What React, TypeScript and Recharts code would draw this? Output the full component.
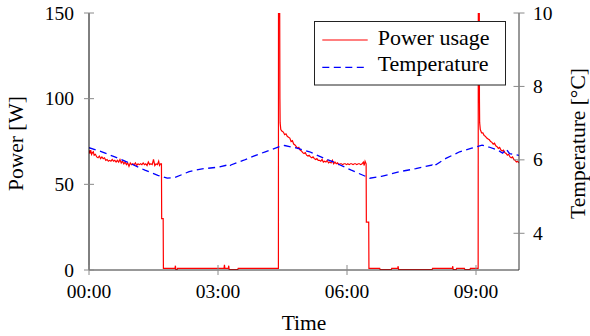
import React from 'react';
import { LineChart, Line, XAxis, YAxis, Legend } from 'recharts';

// ---------- data ----------
// Power usage: [hour, watts]
const powerSeries: [number, number][] = [
  [0.0, 70], [0.02, 68], [0.04, 70], [0.06, 67.5], [0.08, 68.5], [0.1, 69], [0.12, 67], [0.15, 67.5],
  [0.18, 66], [0.21, 65.5], [0.24, 66.5], [0.27, 65], [0.3, 66], [0.33, 65], [0.36, 65.5], [0.39, 64],
  [0.42, 64.5], [0.45, 63.5], [0.48, 64], [0.51, 63.5], [0.54, 64.5], [0.57, 63.5], [0.6, 64], [0.63, 63],
  [0.66, 64], [0.69, 63], [0.72, 64.5], [0.75, 62.5], [0.78, 63.5], [0.81, 62], [0.84, 63], [0.87, 61.5],
  [0.9, 62.5], [0.93, 60.5], [0.96, 62.5], [0.99, 61.5], [1.02, 62], [1.05, 61.5], [1.08, 62.5], [1.11, 61],
  [1.14, 62], [1.17, 61.5], [1.2, 62], [1.23, 61.5], [1.26, 62.5], [1.29, 61.5], [1.32, 62], [1.35, 61],
  [1.38, 63], [1.41, 61.5], [1.44, 62], [1.47, 61.5], [1.5, 64.5], [1.53, 61], [1.56, 62], [1.59, 61.5],
  [1.62, 63.5], [1.64, 61], [1.665, 62], [1.685, 62],
  [1.69, 30], [1.725, 30], [1.73, 1], [2.0, 1], [2.01, 2.5], [2.02, 0.3], [2.05, 0.3], [2.06, 1],
  [3.14, 1], [3.15, 3], [3.16, 1], [3.24, 1], [3.25, 2.5], [3.26, 0.3], [3.46, 0.3], [3.47, 1],
  [4.405, 1], [4.41, 400], [4.44, 100], [4.445, 86], [4.46, 82],
  [4.49, 81], [4.52, 80.5], [4.55, 79], [4.58, 79.5], [4.61, 78], [4.64, 77.5], [4.67, 77], [4.7, 75],
  [4.73, 75.5], [4.76, 73.5], [4.79, 73], [4.82, 72], [4.85, 71], [4.88, 71.5], [4.91, 70], [4.94, 69.5],
  [4.97, 68.5], [5.0, 68], [5.03, 68.5], [5.06, 67], [5.09, 66.5], [5.12, 67], [5.15, 66], [5.18, 65.5],
  [5.21, 66], [5.24, 65], [5.27, 64.5], [5.3, 65], [5.33, 64], [5.36, 64], [5.39, 63.5], [5.42, 64.5],
  [5.45, 63], [5.48, 63.5], [5.51, 63], [5.54, 64], [5.57, 62.5], [5.6, 63], [5.63, 62.5], [5.66, 64],
  [5.69, 62], [5.72, 63], [5.75, 62], [5.78, 62.5], [5.81, 61.5], [5.84, 62], [5.87, 62], [5.9, 61.5],
  [5.93, 62], [5.96, 62], [5.99, 61.5], [6.02, 62], [6.05, 61.5], [6.08, 62], [6.11, 62], [6.14, 61.5],
  [6.17, 62], [6.2, 62], [6.23, 61.5], [6.26, 62], [6.29, 62], [6.32, 61.5], [6.35, 62], [6.38, 63],
  [6.4, 61], [6.42, 63.5], [6.445, 62],
  [6.45, 28], [6.505, 28], [6.51, 1], [6.76, 1], [6.77, 0.3], [7.03, 0.3], [7.04, 1], [7.18, 1],
  [7.19, 2.2], [7.2, 0.3], [7.98, 0.3], [7.99, 1], [8.45, 1], [8.46, 2.2], [8.47, 0.3], [8.54, 0.3],
  [8.55, 1], [8.73, 1], [8.74, 0.3], [8.86, 0.3], [8.87, 1],
  [9.05, 1], [9.06, 400], [9.08, 100], [9.085, 86], [9.1, 82],
  [9.13, 80], [9.16, 80], [9.19, 78.5], [9.22, 78], [9.25, 77], [9.28, 76.5], [9.31, 76], [9.34, 75],
  [9.37, 74.5], [9.4, 73.5], [9.43, 74], [9.46, 72.5], [9.49, 72], [9.52, 71], [9.55, 71.5], [9.58, 70],
  [9.61, 69.5], [9.64, 70], [9.67, 68.5], [9.7, 68], [9.73, 67], [9.76, 67.5], [9.79, 66], [9.82, 65.5],
  [9.85, 66], [9.88, 64.5], [9.91, 64], [9.94, 63], [9.97, 63.5], [10.0, 62.5],
];

// Temperature: [hour, °C]
const temperatureSeries: [number, number][] = [
  [0.0, 6.33], [0.3, 6.22], [0.6, 6.08], [0.77, 6.0], [1.0, 5.88], [1.3, 5.72], [1.6, 5.58], [1.82, 5.5],
  [2.0, 5.52], [2.33, 5.68], [2.6, 5.75], [3.0, 5.8], [3.22, 5.86], [3.26, 5.82], [3.3, 5.86], [3.6, 5.99],
  [3.8, 6.09], [4.1, 6.22], [4.43, 6.36], [4.55, 6.39], [4.8, 6.33], [5.13, 6.22], [5.45, 6.05], [5.75, 5.91],
  [6.1, 5.72], [6.53, 5.5], [6.8, 5.55], [7.23, 5.68], [7.6, 5.76], [7.98, 5.86], [8.02, 5.81], [8.06, 5.86],
  [8.3, 6.04], [8.62, 6.22], [8.9, 6.32], [9.14, 6.4], [9.3, 6.35], [9.5, 6.27], [9.62, 6.18], [9.7, 6.3],
  [9.78, 6.17], [10.0, 6.12],
];

const timeTicks = [0, 3, 6, 9];
const timeTickLabels = ['00:00', '03:00', '06:00', '09:00'];
const powerTicks = [0, 50, 100, 150];
const temperatureTicks = [4, 6, 8, 10];

const powerData = powerSeries.map(([t, p]) => ({ t, p }));
const temperatureData = temperatureSeries.map(([t, c]) => ({ t, c }));

// ---------- styling ----------
const FONT = '"Liberation Serif", "Times New Roman", serif';
const TICK_COLOR = '#8a8a8a';
const TICK_FS = 19.5;
const LABEL_FS = 21.5;

function LeftTick(props: any) {
  const { x, y, payload } = props;
  return (
    <g>
      <line x1={x - 5} x2={x + 5} y1={y} y2={y} stroke={TICK_COLOR} strokeWidth={1} />
      <text x={x - 15} y={y + 6.5} textAnchor="end" fontFamily={FONT} fontSize={TICK_FS} fill="#000">
        {payload.value}
      </text>
    </g>
  );
}

function RightTick(props: any) {
  const { x, y, payload } = props;
  return (
    <g>
      <line x1={x - 5.5} x2={x + 5.5} y1={y} y2={y} stroke={TICK_COLOR} strokeWidth={1} />
      <text x={x + 14} y={y + 6.5} textAnchor="start" fontFamily={FONT} fontSize={TICK_FS} fill="#000">
        {payload.value}
      </text>
    </g>
  );
}

function BottomTick(props: any) {
  const { x, y, payload } = props;
  const i = timeTicks.indexOf(payload.value);
  return (
    <g>
      <line x1={x} x2={x} y1={y - 5} y2={y + 5} stroke={TICK_COLOR} strokeWidth={1} />
      <text x={x} y={y + 28.3} textAnchor="middle" fontFamily={FONT} fontSize={TICK_FS} fill="#000">
        {i >= 0 ? timeTickLabels[i] : payload.value}
      </text>
    </g>
  );
}

function LegendBox() {
  return (
    <svg width={192} height={65} style={{ display: 'block' }}>
      <rect x={0.5} y={0.5} width={191} height={63.5} fill="#fff" stroke="#222" strokeWidth={1} />
      <line x1={8.3} x2={53.7} y1={19} y2={19} stroke="#ff0000" strokeWidth={1.2} />
      <line x1={8.3} x2={53.7} y1={46.3} y2={46.3} stroke="#0000ff" strokeWidth={1.3} strokeDasharray="7 4.5" />
      <text x={63.7} y={23.5} fontFamily={FONT} fontSize={22} fill="#000">Power usage</text>
      <text x={63.7} y={50.2} fontFamily={FONT} fontSize={22} fill="#000">Temperature</text>
    </svg>
  );
}

export default function App() {
  return (
    <div style={{ position: 'absolute', left: 0, top: 0, width: 590, height: 336, background: '#fff' }}>
      <LineChart width={590} height={336} margin={{ top: 13, right: 0, bottom: 0, left: 0 }}>
        <XAxis
          dataKey="t"
          type="number"
          domain={[0, 10]}
          ticks={timeTicks}
          allowDataOverflow
          height={66}
          tickSize={0}
          tickMargin={0}
          tickLine={false}
          axisLine={{ stroke: '#333', strokeWidth: 1 }}
          tick={<BottomTick />}
          label={{ value: 'Time', position: 'center', dx: 0, dy: 19, fontFamily: FONT, fontSize: LABEL_FS, fill: '#000' }}
        />
        <YAxis
          yAxisId="p"
          type="number"
          domain={[0, 150]}
          ticks={powerTicks}
          allowDataOverflow
          width={89}
          tickSize={0}
          tickMargin={0}
          tickLine={false}
          axisLine={{ stroke: '#000', strokeWidth: 1 }}
          tick={<LeftTick />}
          label={{ value: 'Power [W]', angle: -90, position: 'center', dx: -29, dy: 2, fontFamily: FONT, fontSize: LABEL_FS, fill: '#000' }}
        />
        <YAxis
          yAxisId="c"
          orientation="right"
          type="number"
          domain={[3, 10]}
          ticks={temperatureTicks}
          allowDataOverflow
          width={71}
          tickSize={0}
          tickMargin={0}
          tickLine={false}
          axisLine={{ stroke: '#333', strokeWidth: 1 }}
          tick={<RightTick />}
          label={{ value: 'Temperature [°C]', angle: -90, position: 'center', dx: 22.5, dy: 2, fontFamily: FONT, fontSize: LABEL_FS, fill: '#000' }}
        />
        <Line
          yAxisId="p"
          data={powerData}
          dataKey="p"
          type="linear"
          stroke="#ff0000"
          strokeWidth={1.2}
          dot={false}
          activeDot={false}
          isAnimationActive={false}
          name="Power usage"
        />
        <Line
          yAxisId="c"
          data={temperatureData}
          dataKey="c"
          type="linear"
          stroke="#0000ff"
          strokeWidth={1.3}
          strokeDasharray="7 4.5"
          dot={false}
          activeDot={false}
          isAnimationActive={false}
          name="Temperature"
        />
        <Legend
          verticalAlign="middle"
          align="center"
          content={() => <LegendBox />}
          wrapperStyle={{ position: 'absolute', left: 314, top: 20.7, width: 192, height: 65 }}
        />
      </LineChart>
    </div>
  );
}
